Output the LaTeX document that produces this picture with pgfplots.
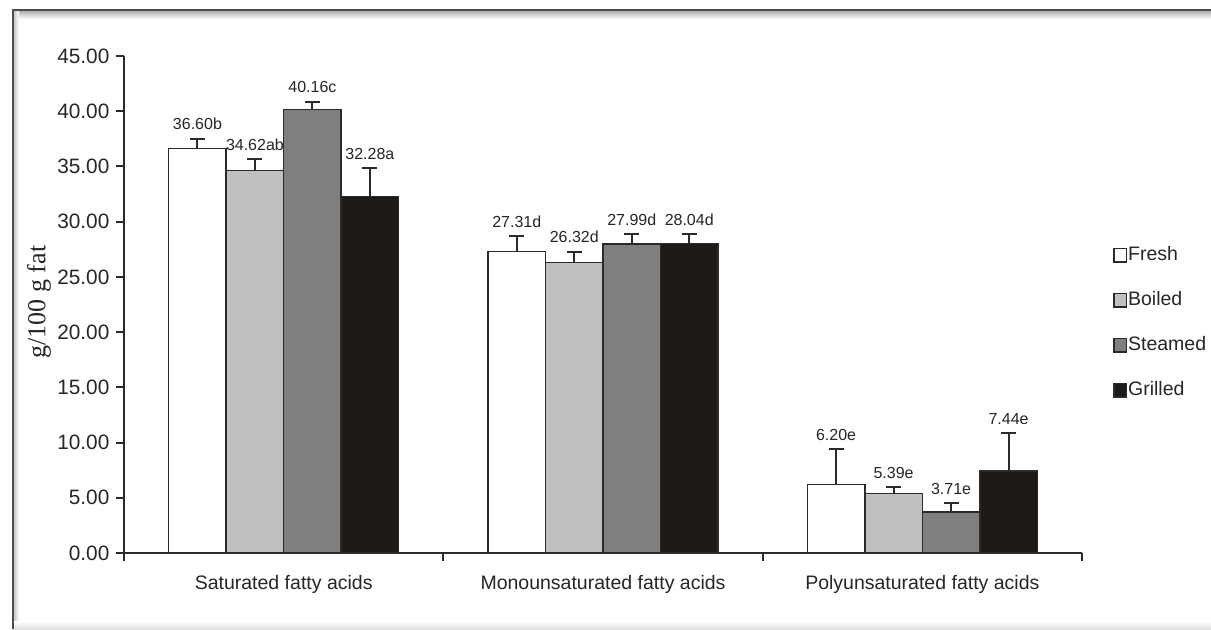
\documentclass[border=0pt]{standalone}
\usepackage{pgfplots}
\usepackage{pgfplotstable}
\pgfplotsset{compat=1.18}
\usepackage{fontspec}
\setmainfont{Liberation Sans}
\newfontfamily\serifface{Liberation Serif}
\definecolor{cBoiled}{HTML}{C0C0C0}
\definecolor{cSteamed}{HTML}{7F7F7F}
\definecolor{cGrilled}{HTML}{1E1A17}
\definecolor{cLine}{HTML}{2A2A2A}
\definecolor{cText}{HTML}{262626}

\pgfplotstableread{
x y err label
0 36.60 0.90 36.60b
1 27.31 1.35 27.31d
2 6.20 3.20 6.20e
}\fresh
\pgfplotstableread{
x y err label
0 34.62 1.05 34.62ab
1 26.32 0.95 26.32d
2 5.39 0.55 5.39e
}\boiled
\pgfplotstableread{
x y err label
0 40.16 0.70 40.16c
1 27.99 0.90 27.99d
2 3.71 0.80 3.71e
}\steamed
\pgfplotstableread{
x y err label
0 32.28 2.55 32.28a
1 28.04 0.80 28.04d
2 7.44 3.40 7.44e
}\grilled

\begin{document}
\begin{tikzpicture}
\path[use as bounding box] (0,0) rectangle (605.5pt,314.5pt);
\fill[white] (0,0) rectangle (605.5pt,314.5pt);
\shade[top color=black!35, bottom color=white] (6.5pt,305pt) rectangle (605.5pt,309.5pt);
\shade[left color=black!25, right color=white] (6.5pt,0) rectangle (9.5pt,309.5pt);
\shade[top color=white, bottom color=black!12] (6.5pt,0) rectangle (605.5pt,4pt);
\draw[black!70, line width=1.2pt] (6.5pt,0) -- (6.5pt,309.5pt) -- (605.5pt,309.5pt);

\begin{axis}[
  at={(62pt,38pt)}, anchor=south west,
  scale only axis, width=479pt, height=248.5pt,
  ybar=0pt,
  xmin=-0.5, xmax=2.5, ymin=0, ymax=45,
  axis x line*=bottom, axis y line*=left,
  axis line style={cLine, line width=1pt},
  ytick={0,5,...,45},
  /pgf/number format/assume math mode=true,
  yticklabel style={font=\fontsize{10.4}{12}\selectfont, text=cText,
    /pgf/number format/.cd, fixed, fixed zerofill, precision=2},
  xtick={-0.5,0.5,1.5,2.5},
  xticklabels={Saturated fatty acids, Monounsaturated fatty acids, Polyunsaturated fatty acids},
  x tick label as interval,
  xticklabel style={font=\fontsize{9.75}{11}\selectfont, text=cText, yshift=-4pt},
  tick align=outside,
  major tick length=3.8pt,
  tick style={cLine, line width=1pt},
  ylabel={g/100 g fat},
  ylabel style={font=\serifface\fontsize{13}{15}\selectfont, text=cText,
    at={(axis description cs:-0.0887,0.505)}, anchor=center},
  legend image code/.code={\draw[#1, draw=cLine, line width=0.7pt] (0pt,-3.4pt) rectangle (6.2pt,3.4pt);},
  legend style={at={(axis description cs:1.026,0.628)}, anchor=north west,
    draw=none, fill=none, font=\fontsize{9.75}{11}\selectfont, text=cText,
    row sep=12.5pt, column sep=0pt,
    nodes={inner sep=0.5pt, text height=7pt, text depth=2pt}},
  legend cell align=left,
  bar width=0.18,
  error bars/y dir=plus,
  error bars/y explicit,
  error bars/error mark options={rotate=90, mark size=3.75pt, line width=1pt, cLine},
  error bars/error bar style={line width=1pt, cLine},
  every axis plot/.append style={draw=cLine, line width=0.7pt},
  clip=false,
]
\addplot[fill=white, bar shift=-0.27] table[x=x, y=y, y error=err] \fresh;
\addlegendentry{Fresh}
\addplot[fill=cBoiled, bar shift=-0.09] table[x=x, y=y, y error=err] \boiled;
\addlegendentry{Boiled}
\addplot[fill=cSteamed, bar shift=0.09] table[x=x, y=y, y error=err] \steamed;
\addlegendentry{Steamed}
\addplot[fill=cGrilled, bar shift=0.27] table[x=x, y=y, y error=err] \grilled;
\addlegendentry{Grilled}

\pgfplotsset{lbl/.style={draw=none, fill=none, forget plot,
  nodes near coords, point meta=explicit symbolic,
  nodes near coords style={font=\fontsize{8}{9}\selectfont, text=cText,
    anchor=south, inner sep=1pt, yshift=3pt}}}
\addplot[lbl, bar shift=-0.27] table[x=x, y expr=\thisrow{y}+\thisrow{err}, meta=label] \fresh;
\addplot[lbl, bar shift=-0.09] table[x=x, y expr=\thisrow{y}+\thisrow{err}, meta=label] \boiled;
\addplot[lbl, bar shift=0.09] table[x=x, y expr=\thisrow{y}+\thisrow{err}, meta=label] \steamed;
\addplot[lbl, bar shift=0.27] table[x=x, y expr=\thisrow{y}+\thisrow{err}, meta=label] \grilled;
\end{axis}
\end{tikzpicture}
\end{document}
